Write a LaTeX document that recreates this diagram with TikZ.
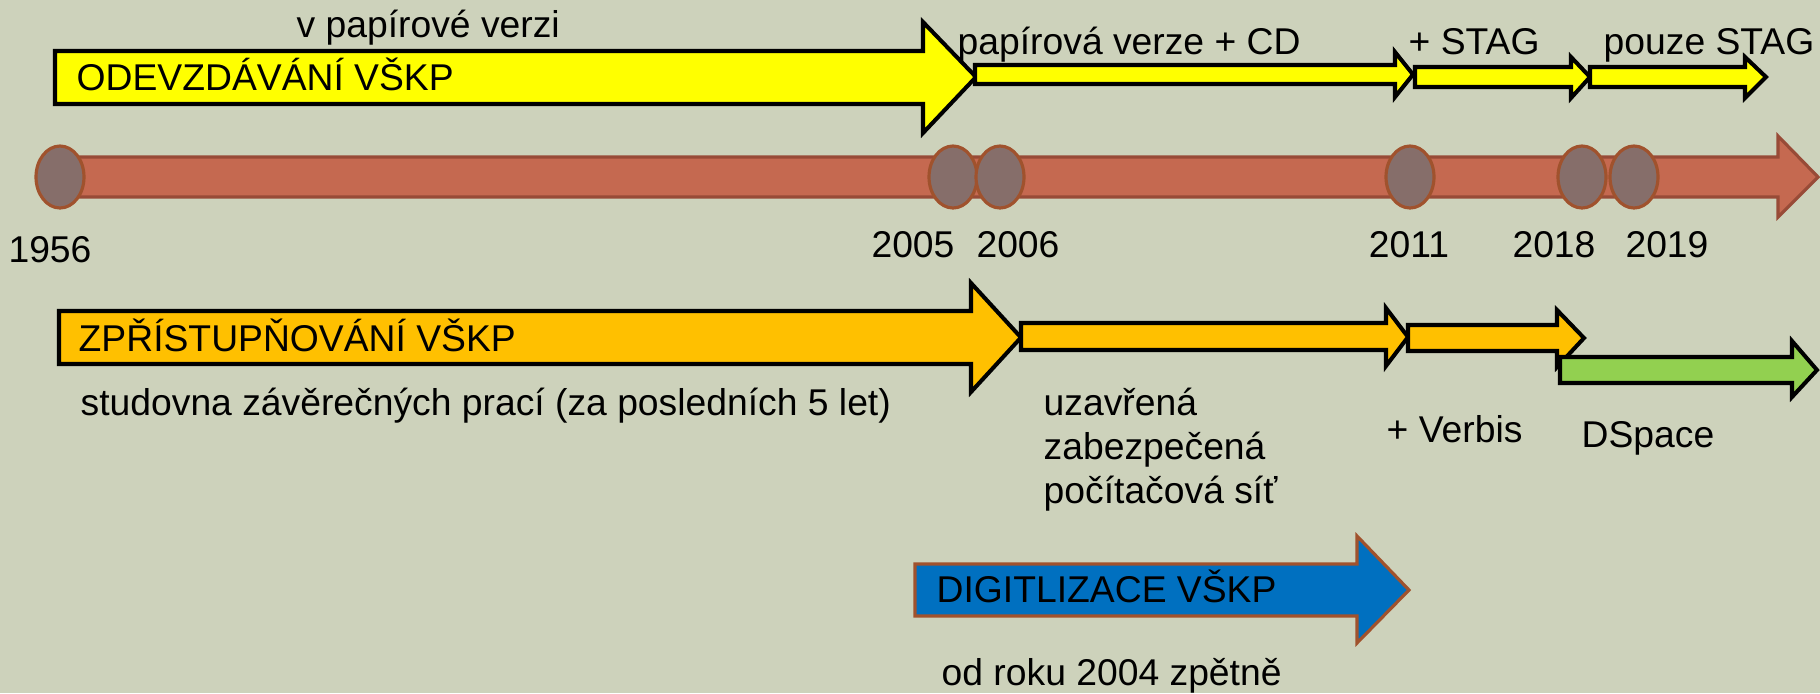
\documentclass[tikz,border=0pt]{standalone}
\usepackage{fontspec}
\setmainfont{Liberation Sans}
\definecolor{bgcol}{RGB}{205,210,187}
\definecolor{barcol}{RGB}{197,105,80}
\definecolor{bardark}{RGB}{152,75,55}
\definecolor{dotcol}{RGB}{134,110,106}
\definecolor{dotline}{RGB}{160,82,45}
\definecolor{subyellow}{RGB}{255,255,0}
\definecolor{accorange}{RGB}{255,192,0}
\definecolor{dspgreen}{RGB}{146,208,80}
\definecolor{digblue}{RGB}{0,112,192}

\begin{document}
\begin{tikzpicture}[x=.01cm, y=-.01cm,
    every node/.style={font=\fontsize{10.6}{12.5}\selectfont},
    lbl/.style={inner sep=0pt, anchor=base west},
    yr/.style={inner sep=0pt, anchor=base},
    blk/.style={draw=black, line width=1.15pt, line join=miter},
    dot/.style={fill=dotcol, draw=dotline, line width=.9pt}]

      \fill[bgcol] (0,0) rectangle (1820,693);
      \useasboundingbox (0,0) rectangle (1820,693);

      % odevzdavani
      \draw[blk, fill=subyellow] (55,51) -- (923,51) -- (923,22) -- (976,77) -- (923,133) -- (923,104) -- (55,104) -- cycle;
      \draw[blk, fill=subyellow] (975,65) -- (1395,65) -- (1395,52) -- (1413,74.5) -- (1395,97) -- (1395,84) -- (975,84) -- cycle;
      \draw[blk, fill=subyellow] (1415,67) -- (1571,67) -- (1571,57) -- (1590,77) -- (1571,98) -- (1571,87) -- (1415,87) -- cycle;
      \draw[blk, fill=subyellow] (1590,67) -- (1745,67) -- (1745,57) -- (1766,77) -- (1745,98) -- (1745,87) -- (1590,87) -- cycle;

      \node[lbl] (paper) at (296,37) {v papírové verzi};
      \node[lbl] (odevz) at (76,90) {ODEVZDÁVÁNÍ VŠKP};
      \node[lbl] (papcd) at (957,54) {papírová verze + CD};
      \node[lbl] (stag) at (1408,54) {+ STAG};
      \node[lbl] (onlystag) at (1603,54) {pouze STAG};

      % casova osa
      \draw[fill=barcol, draw=bardark, line width=.9pt, line join=miter] (60,157) -- (1778,157) -- (1778,136) -- (1818,177) -- (1778,217) -- (1778,197) -- (60,197) -- cycle;

      \draw[dot] (60,177) ellipse (24 and 31);
      \draw[dot] (953,177) ellipse (24 and 31);
      \draw[dot] (1000,177) ellipse (24 and 31);
      \draw[dot] (1410,177) ellipse (24 and 31);
      \draw[dot] (1582,177) ellipse (24 and 31);
      \draw[dot] (1634,177) ellipse (24 and 31);

      \node[yr] (y1956) at (50,262) {1956};
      \node[yr] (y2005) at (913,257) {2005};
      \node[yr] (y2006) at (1018,257) {2006};
      \node[yr] (y2011) at (1409,257) {2011};
      \node[yr] (y2018) at (1554,257) {2018};
      \node[yr] (y2019) at (1667,257) {2019};

      % zpristupnovani
      \draw[blk, fill=accorange] (59,311) -- (971,311) -- (971,283) -- (1021,337.5) -- (971,392) -- (971,364) -- (59,364) -- cycle;
      \draw[blk, fill=accorange] (1021,323) -- (1386,323) -- (1386,308) -- (1408,337) -- (1386,366) -- (1386,350) -- (1021,350) -- cycle;
      \draw[blk, fill=accorange] (1408,325) -- (1557,325) -- (1557,310) -- (1584,338) -- (1557,367) -- (1557,351) -- (1408,351) -- cycle;
      \draw[blk, fill=dspgreen] (1560,357) -- (1792,357) -- (1792,341) -- (1817,370) -- (1792,397) -- (1792,383) -- (1560,383) -- cycle;

      \node[lbl] (zpris) at (78,351) {ZPŘÍSTUPŇOVÁNÍ VŠKP};
      \node[lbl] (studovna) at (80,415) {studovna závěrečných prací (za posledních 5 let)};
      \node[lbl, align=left] (closednet) at (1043,503) {uzavřená\\zabezpečená\\počítačová síť};
      \node[lbl] (verbis) at (1386,442) {+ Verbis};
      \node[lbl] (dspace) at (1581,447) {DSpace};

      % digitalizace
      \draw[fill=digblue, draw=dotline, line width=.9pt, line join=miter] (915,564) -- (1357,564) -- (1357,536) -- (1409,590) -- (1357,643) -- (1357,616) -- (915,616) -- cycle;
      \node[lbl] (digit) at (936,602) {DIGITLIZACE VŠKP};
      \node[lbl] (since) at (941,685) {od roku 2004 zpětně};

\end{tikzpicture}
\end{document}
